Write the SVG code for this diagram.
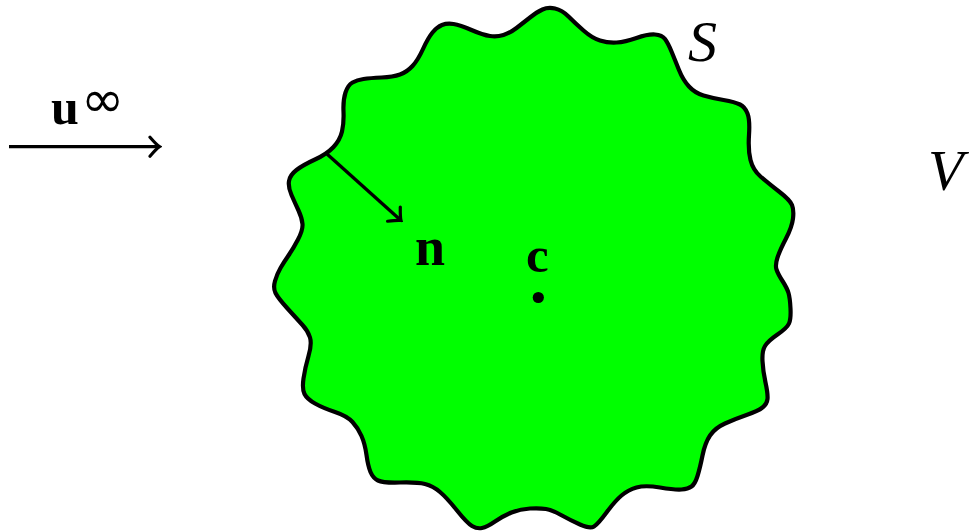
<svg xmlns="http://www.w3.org/2000/svg" width="969" height="531" viewBox="0 0 969 531">
<style>
.outline{fill:#00ff00;stroke:#000;stroke-width:4.2;stroke-linejoin:round}
.conn{fill:none;stroke:#000;stroke-width:3.3}
.lbl{font-family:"Liberation Serif","DejaVu Serif",serif;fill:#000}
.bold{font-weight:bold}
.it{font-style:italic}
</style>
<defs>
<marker id="to" viewBox="-13 -12 15 24" markerWidth="15" markerHeight="24" refX="0" refY="0" orient="auto" markerUnits="userSpaceOnUse">
<path d="M -9.5 -9.5 Q -2.5 -1.5 0 0 Q -2.5 1.5 -9.5 9.5" fill="none" stroke="#000" stroke-width="3.2" stroke-linecap="round"/>
</marker>
</defs>
<rect width="969" height="531" fill="#fff"/>
<g id="body">
<path class="outline" d="M 275.5 293 Q 273 288 275 281 Q 277 274 280.5 268 Q 284 262 288.5 255.5 Q 293 249 298 239.5 Q 303 230 302.5 224 Q 302 218 298.5 210.5 Q 295 203 291.5 195 Q 288 187 289 181 Q 290 175 296.5 170 Q 303 165 315 159.5 Q 327 154 333.5 147 Q 340 140 342 131.5 Q 344 123 343.5 111.5 Q 343 100 345.5 92.5 Q 348 85 352.5 82.5 Q 357 80 363.5 79 Q 370 78 381.5 77.5 Q 393 77 400 74.5 Q 407 72 412.5 66 Q 418 60 423 49 Q 428 38 432.5 32.5 Q 437 27 442 25 Q 447 23 453.5 24 Q 460 25 471.5 30 Q 483 35 490 36 Q 497 37 503.5 35 Q 510 33 516.5 28 Q 523 23 530 17.5 Q 537 12 542.5 9.5 Q 548 7 555 8.5 Q 562 10 568.5 16.5 Q 575 23 583.5 30.5 Q 592 38 600 40.5 Q 608 43 616.5 42.5 Q 625 42 636.5 38 Q 648 34 655 34.5 Q 662 35 665 39 Q 668 43 671.5 51.5 Q 675 60 679 70 Q 683 80 689 86.5 Q 695 93 703.5 95.5 Q 712 98 723.5 100 Q 735 102 740 104.5 Q 745 107 747.5 113.5 Q 750 120 749 135 Q 748 150 750.5 160 Q 753 170 760.5 176.5 Q 768 183 779 191.5 Q 790 200 792 205 Q 794 210 793 218.5 Q 792 227 786 238.5 Q 780 250 777.5 257.5 Q 775 265 776.5 269.5 Q 778 274 782.5 281 Q 787 288 788.5 293 Q 790 298 790.5 308.5 Q 791 319 789 323.5 Q 787 328 777.5 334.5 Q 768 341 765 346 Q 762 351 762.5 361 Q 763 371 765.5 382.5 Q 768 394 767.5 399 Q 767 404 762.5 407.5 Q 758 411 746.5 415 Q 735 419 725 423.5 Q 715 428 710 435.5 Q 705 443 702.5 455.5 Q 700 468 697.5 476 Q 695 484 691.5 486.5 Q 688 489 681.5 489.5 Q 675 490 660 487.5 Q 645 485 636.5 487.5 Q 628 490 621.5 495.5 Q 615 501 606.5 512.5 Q 598 524 594 526.5 Q 590 529 580 524.5 Q 570 520 561 515 Q 552 510 546 509 Q 540 508 530 508.5 Q 520 509 511.5 512.5 Q 503 516 495 521.5 Q 487 527 482 528 Q 477 529 472 526 Q 467 523 457 510.5 Q 447 498 440 492 Q 433 486 425 484 Q 417 482 400 482.5 Q 383 483 378 480.5 Q 373 478 370.5 472 Q 368 466 366.5 455 Q 365 444 361.5 436 Q 358 428 352.5 422 Q 347 416 335 412 Q 323 408 315 403.5 Q 307 399 304.5 394 Q 302 389 303.5 378.5 Q 305 368 308.5 356 Q 312 344 310 337.5 Q 308 331 302.5 325 Q 297 319 287.5 308.5 Q 278 298 275.5 293 Z"/>
</g>
<g id="center">
<circle cx="538.3" cy="297.5" r="5.6" fill="#000"/>
<text class="lbl bold" x="526" y="272" font-size="51">c</text>
</g>
<g id="labels">
<text id="label-S" class="lbl it" x="688" y="61" font-size="58">S</text>
<text id="label-V" class="lbl it" x="928" y="190" font-size="58">V</text>
<text id="label-n" class="lbl bold" x="415" y="265" font-size="54">n</text>
<text id="label-u" class="lbl bold" x="51" y="124" font-size="50">u</text>
<text id="label-inf" x="81" y="117" font-size="52" font-family="DejaVu Sans, sans-serif" fill="#000">∞</text>
</g>
<g id="connectors">
<line class="conn" x1="327" y1="154" x2="401" y2="220.5" marker-end="url(#to)"/>
<line class="conn" x1="9" y1="146.7" x2="159.5" y2="146.7" marker-end="url(#to)"/>
</g>
</svg>
